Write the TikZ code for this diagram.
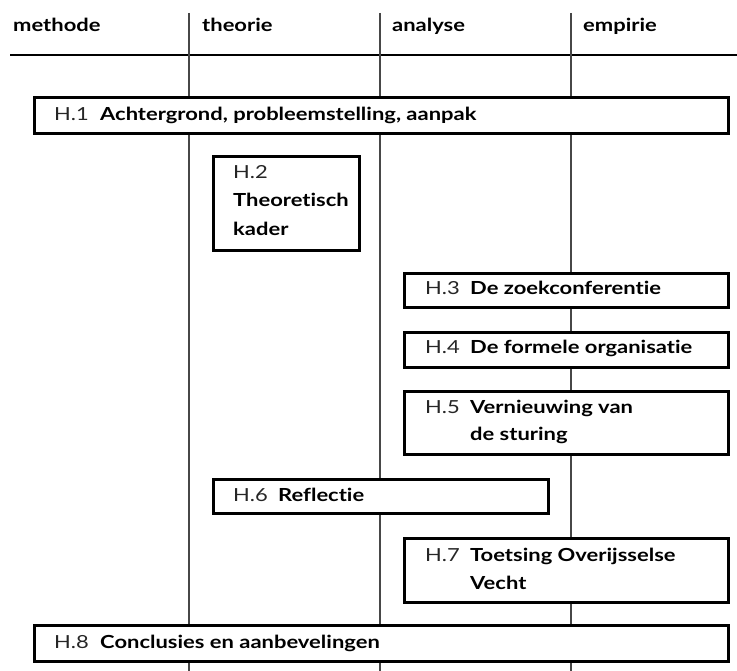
\documentclass[tikz,border=0pt]{standalone}
\usepackage{fontspec}
\setmainfont{Lato}[FakeStretch=1.22,RawFeature={-liga;-dlig}]
\begin{document}
\begin{tikzpicture}[x=1pt,y=-1pt,
  colline/.style={draw=black!72,line width=1.3pt},
  rule/.style={draw=black,line width=2.8pt},
  chapter/.style={draw=black,fill=white,line width=2.6pt,rectangle,inner sep=0pt,anchor=north west},
  hnum/.style={anchor=base west,inner sep=0pt,text=black!85,font=\fontsize{18}{21}\selectfont},
  htitle/.style={anchor=base west,inner sep=0pt,font=\fontsize{18}{21}\selectfont\bfseries,align=left},
  colhead/.style={anchor=base west,inner sep=0pt,font=\fontsize{18}{21}\selectfont\bfseries}]
\useasboundingbox (0,0) rectangle (737,671);

% column headings and rule
\node[colhead] (hm) at (13,32) {methode};
\node[colhead] (ht) at (202,32) {theorie};
\node[colhead] (ha) at (392,32) {analyse};
\node[colhead] (he) at (583,32) {empirie};
\coordinate (rl) at (10,55);
\coordinate (rr) at (737,55);
\draw[rule] (rl) -- (rr);

% column dividers
\foreach \x/\n in {189/a,380/b,571/c}{
  \coordinate (top\n) at (\x,13);
  \coordinate (bot\n) at (\x,671);
  \draw[colline] (top\n) -- (bot\n);
}

% chapter boxes
\node[chapter,minimum width=694pt,minimum height=36pt] (b1) at (33,96) {};
\node[hnum] (n1) at (54,121) {H.1};
\node[htitle] (t1) at (100,121) {Achtergrond, probleemstelling, aanpak};

\node[chapter,minimum width=146pt,minimum height=94pt] (b2) at (212,155) {};
\node[hnum] (n2) at (233,179) {H.2};
\node[htitle] (t2a) at (233,207) {Theoretisch};
\node[htitle] (t2b) at (233,236) {kader};

\node[chapter,minimum width=324pt,minimum height=34pt] (b3) at (403,272) {};
\node[hnum] (n3) at (425,295) {H.3};
\node[htitle] (t3) at (470,295) {De zoekconferentie};

\node[chapter,minimum width=324pt,minimum height=35pt] (b4) at (403,331) {};
\node[hnum] (n4) at (425,354) {H.4};
\node[htitle] (t4) at (470,354) {De formele organisatie};

\node[chapter,minimum width=324pt,minimum height=63pt] (b5) at (403,390) {};
\node[hnum] (n5) at (425,413) {H.5};
\node[htitle] (t5a) at (470,413) {Vernieuwing van};
\node[htitle] (t5b) at (470,440) {de sturing};

\node[chapter,minimum width=335pt,minimum height=34pt] (b6) at (212,478) {};
\node[hnum] (n6) at (233,501) {H.6};
\node[htitle] (t6) at (278,501) {Reflectie};

\node[chapter,minimum width=324pt,minimum height=64pt] (b7) at (403,537) {};
\node[hnum] (n7) at (425,561) {H.7};
\node[htitle] (t7a) at (470,561) {Toetsing Overijsselse};
\node[htitle] (t7b) at (470,589) {Vecht};

\node[chapter,minimum width=694pt,minimum height=36pt] (b8) at (33,624) {};
\node[hnum] (n8) at (54,648) {H.8};
\node[htitle] (t8) at (100,648) {Conclusies en aanbevelingen};
\end{tikzpicture}
\end{document}
